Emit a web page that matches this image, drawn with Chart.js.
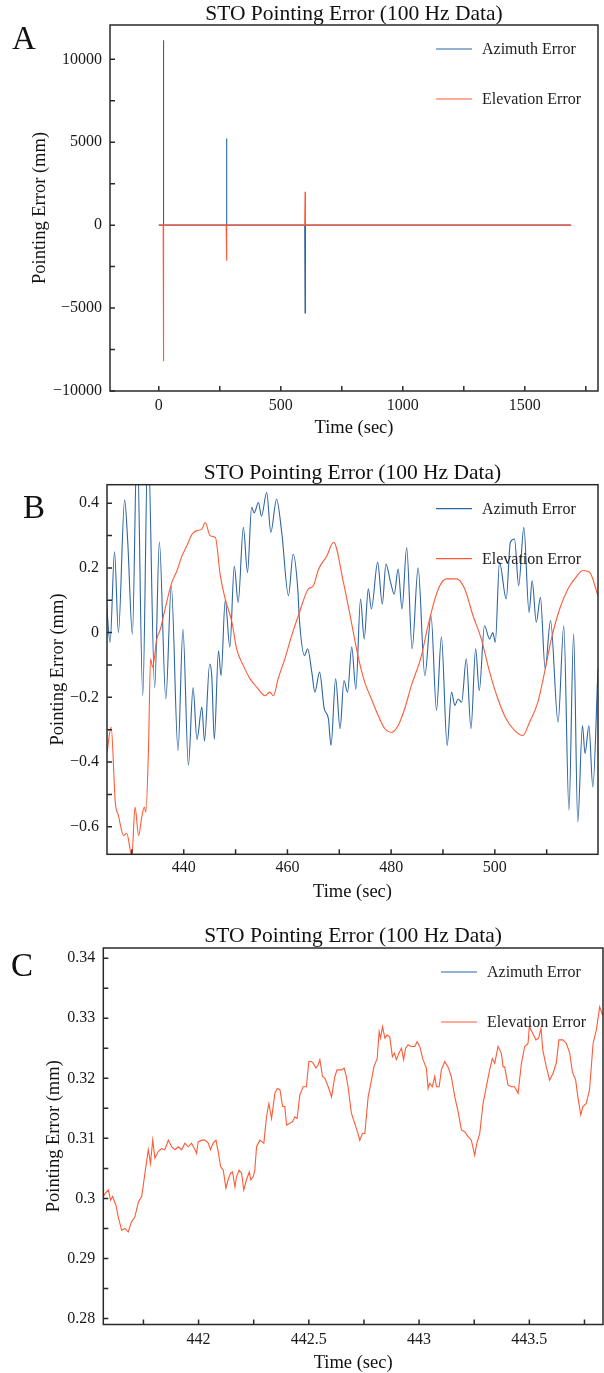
<!DOCTYPE html>
<html>
<head>
<meta charset="utf-8">
<script src="https://cdn.jsdelivr.net/npm/chart.js@4.4.1/dist/chart.umd.min.js"></script>
<style>
    html, body { margin: 0; padding: 0; background: #fff; }
    body { width: 604px; height: 1373px; position: relative; overflow: hidden; font-family: "Liberation Serif", serif; }
    canvas { position: absolute; left: 0; }
    .tag { position: absolute; font-size: 33px; line-height: 33px; color: #111; }
</style>
</head>
<body>
<canvas id="chartA" width="604" height="450" style="top:0"></canvas>
<canvas id="chartB" width="604" height="455" style="top:450px"></canvas>
<canvas id="chartC" width="604" height="468" style="top:905px"></canvas>
<div class="tag" style="left:12px;top:22px">A</div>
<div class="tag" style="left:23px;top:491px">B</div>
<div class="tag" style="left:11px;top:949px">C</div>
<script>
const titleText = "STO Pointing Error (100 Hz Data)";
const seriesNames = ["Azimuth Error", "Elevation Error"];
const xTitle = "Time (sec)";
const yTitle = "Pointing Error (mm)";

// A: whole run, three big spikes
const aTimeAz = [0, 18, 19, 20, 276, 277.5, 279, 598, 599.5, 601, 960, 1690];
const aAz = [0, 0, 11150, 0, 0, 5230, 0, 0, -5290, 0, 0, 0];
const aTimeEl = [0, 18, 19, 20, 276, 277.5, 279, 598, 599.5, 601, 1060, 1690];
const aEl = [0, 0, -8200, 0, 0, -2150, 0, 0, 2010, 0, 0, 0];
const aXTicks = [0, 500, 1000, 1500];
const aXMinor = [250, 750, 1250, 1750];
const aYTicks = [-10000, -5000, 0, 5000, 10000];
const aYMinor = [-7500, -2500, 2500, 7500];

// B: 425 - 520 sec
const bTimeAz = [425.0, 425.8, 426.65, 427.4, 428.6, 429.2, 430.1, 431.0, 432.1, 433.1, 434.4, 435.3, 436.55, 437.6, 438.9, 439.85, 440.9, 441.8, 442.55, 443.5, 444.0, 445.0, 445.4, 445.9, 446.7, 447.2, 448.0, 448.9, 449.75, 450.5, 451.5, 452.3, 453.1, 453.6, 454.4, 455.0, 456.0, 456.8, 457.9, 458.9, 460.2, 461.1, 462.0, 462.3, 463.3, 463.9, 464.7, 465.3, 466.2, 467.1, 467.9, 468.4, 469.3, 470.15, 470.9, 471.6, 472.4, 473.2, 474.1, 474.8, 475.6, 476.2, 477.4, 478.3, 479.0, 479.9, 480.6, 481.35, 482.1, 483.0, 484.05, 485.2, 486.5, 487.7, 488.75, 489.7, 490.8, 491.65, 492.3, 492.9, 493.6, 494.5, 495.4, 496.3, 497.0, 498.0, 499.0, 499.6, 500.1, 500.9, 502.2, 503.0, 503.8, 504.6, 505.6, 506.6, 507.2, 508.0, 508.8, 509.7, 510.75, 512.2, 513.3, 514.3, 515.2, 516.0, 516.9, 517.4, 518.15, 518.9, 519.9];
const bAz = [0.12, -0.03, 0.25, 0.0, 0.41, 0.28, -0.005, 0.6, -0.195, 0.6, -0.17, 0.28, -0.205, 0.145, -0.365, 0.01, -0.41, -0.17, -0.33, -0.23, -0.335, -0.097, -0.133, -0.33, -0.056, -0.133, 0.1, -0.045, 0.206, 0.093, 0.325, 0.186, 0.387, 0.37, 0.402, 0.36, 0.433, 0.31, 0.412, 0.31, 0.114, 0.242, 0.134, 0.042, -0.071, -0.05, -0.122, -0.184, -0.122, -0.235, -0.266, -0.349, -0.143, -0.297, -0.148, -0.184, -0.045, -0.175, 0.104, -0.02, 0.135, 0.073, 0.217, 0.088, 0.212, 0.155, 0.119, 0.196, 0.073, 0.263, -0.05, 0.2, -0.133, 0.052, -0.24, -0.014, -0.349, -0.184, -0.225, -0.205, -0.215, -0.081, -0.297, -0.05, -0.179, 0.021, -0.02, 0.0, -0.03, 0.217, 0.104, 0.279, 0.289, 0.145, 0.325, 0.062, 0.16, 0.032, 0.109, -0.112, 0.037, -0.277, 0.021, -0.549, -0.004, -0.585, -0.287, -0.374, -0.287, -0.477, -0.112];
const bTimeEl = [425.2, 426.0, 426.8, 427.4, 428.4, 429.0, 430.0, 430.6, 431.3, 431.9, 432.4, 432.7, 433.2, 433.6, 434.0, 434.8, 435.5, 436.4, 437.7, 438.7, 439.65, 440.6, 441.6, 442.55, 443.5, 444.15, 445.1, 446.1, 447.05, 448.0, 449.3, 450.2, 451.5, 452.8, 454.1, 455.7, 456.6, 457.3, 458.2, 459.5, 460.8, 462.1, 464.0, 465.0, 466.0, 467.6, 468.9, 470.8, 472.1, 473.6, 474.9, 476.2, 477.5, 478.8, 480.1, 481.35, 482.6, 483.9, 485.85, 487.1, 489.1, 490.7, 492.6, 494.2, 495.8, 497.4, 499.0, 500.6, 502.2, 503.8, 505.4, 506.7, 508.3, 509.6, 510.9, 512.5, 514.1, 515.4, 517.0, 518.3, 519.9];
const bEl = [-0.37, -0.292, -0.524, -0.565, -0.627, -0.62, -0.69, -0.539, -0.627, -0.57, -0.539, -0.555, -0.359, -0.081, -0.107, -0.02, 0.011, 0.073, 0.155, 0.191, 0.237, 0.268, 0.304, 0.315, 0.32, 0.34, 0.299, 0.294, 0.176, 0.104, 0.032, -0.05, -0.102, -0.143, -0.169, -0.195, -0.184, -0.195, -0.143, -0.081, -0.01, 0.052, 0.134, 0.145, 0.196, 0.237, 0.279, 0.155, 0.052, -0.071, -0.153, -0.205, -0.256, -0.297, -0.308, -0.287, -0.236, -0.164, -0.071, 0.021, 0.135, 0.166, 0.166, 0.135, 0.052, -0.02, -0.122, -0.205, -0.267, -0.302, -0.318, -0.277, -0.215, -0.122, -0.02, 0.073, 0.135, 0.166, 0.192, 0.186, 0.114];
const bXTicks = [440, 460, 480, 500];
const bXMinor = [430, 450, 470, 490, 510];
const bYTicks = [-0.6, -0.4, -0.2, 0, 0.2, 0.4];
const bYMinor = [-0.5, -0.3, -0.1, 0.1, 0.3];

// C: zoom on 441.6 - 443.8 sec (azimuth is below the window)
const cTimeAz = [441.8, 442.55, 443.5, 444.0];
const cAz = [-0.17, -0.33, -0.23, -0.335];
const cTimeEl = [441.568, 441.576, 441.591, 441.601, 441.610, 441.625, 441.636, 441.651, 441.666, 441.681, 441.696, 441.711, 441.727, 441.742, 441.757, 441.772, 441.782, 441.792, 441.802, 441.817, 441.832, 441.847, 441.863, 441.878, 441.893, 441.908, 441.923, 441.938, 441.953, 441.968, 441.984, 441.991, 441.998, 442.014, 442.029, 442.044, 442.054, 442.066, 442.079, 442.089, 442.100, 442.112, 442.124, 442.134, 442.145, 442.154, 442.165, 442.172, 442.184, 442.195, 442.205, 442.217, 442.230, 442.237, 442.248, 442.255, 442.263, 442.278, 442.296, 442.308, 442.319, 442.331, 442.346, 442.357, 442.369, 442.381, 442.391, 442.399, 442.414, 442.426, 442.437, 442.447, 442.459, 442.474, 442.489, 442.500, 442.512, 442.520, 442.532, 442.542, 442.550, 442.562, 442.573, 442.588, 442.603, 442.618, 442.628, 442.648, 442.660, 442.668, 442.678, 442.693, 442.708, 442.723, 442.731, 442.743, 442.754, 442.769, 442.784, 442.795, 442.810, 442.819, 442.825, 442.834, 442.845, 442.855, 442.867, 442.879, 442.888, 442.897, 442.909, 442.920, 442.930, 442.939, 442.950, 442.965, 442.980, 442.991, 443.003, 443.018, 443.033, 443.041, 443.048, 443.060, 443.071, 443.079, 443.091, 443.101, 443.116, 443.131, 443.146, 443.162, 443.177, 443.192, 443.207, 443.222, 443.237, 443.252, 443.262, 443.275, 443.290, 443.305, 443.320, 443.332, 443.343, 443.358, 443.373, 443.381, 443.388, 443.403, 443.418, 443.433, 443.449, 443.464, 443.479, 443.494, 443.500, 443.515, 443.530, 443.542, 443.553, 443.561, 443.577, 443.592, 443.607, 443.622, 443.634, 443.652, 443.668, 443.683, 443.695, 443.710, 443.720, 443.733, 443.743, 443.758, 443.773, 443.789, 443.804, 443.819, 443.834];
const cEl = [0.3003, 0.3008, 0.3014, 0.2997, 0.3003, 0.2989, 0.2969, 0.2947, 0.2950, 0.2944, 0.2961, 0.2969, 0.2994, 0.3003, 0.3042, 0.3081, 0.3058, 0.3097, 0.3067, 0.3078, 0.3083, 0.3081, 0.3097, 0.3086, 0.3081, 0.3086, 0.3081, 0.3092, 0.3086, 0.3092, 0.3081, 0.3075, 0.3094, 0.3097, 0.3097, 0.3092, 0.3081, 0.3092, 0.3097, 0.3078, 0.3053, 0.3047, 0.3017, 0.3031, 0.3042, 0.3044, 0.3019, 0.3036, 0.3047, 0.3042, 0.3014, 0.3031, 0.3044, 0.3031, 0.3036, 0.3047, 0.3086, 0.3097, 0.3092, 0.3136, 0.3158, 0.3133, 0.3175, 0.3183, 0.3181, 0.3153, 0.3153, 0.3122, 0.3125, 0.3128, 0.3136, 0.3133, 0.3172, 0.3186, 0.3186, 0.3228, 0.3228, 0.3225, 0.3217, 0.3222, 0.3231, 0.3203, 0.3200, 0.3186, 0.3169, 0.3203, 0.3214, 0.3214, 0.3217, 0.3206, 0.3186, 0.3142, 0.3125, 0.3108, 0.3097, 0.3108, 0.3108, 0.3169, 0.3197, 0.3219, 0.3233, 0.3278, 0.3267, 0.3286, 0.3267, 0.3272, 0.3269, 0.3236, 0.3242, 0.3231, 0.3242, 0.3250, 0.3231, 0.3250, 0.3256, 0.3253, 0.3253, 0.3261, 0.3253, 0.3231, 0.3217, 0.3183, 0.3192, 0.3186, 0.3203, 0.3186, 0.3186, 0.3214, 0.3228, 0.3219, 0.3203, 0.3169, 0.3144, 0.3114, 0.3111, 0.3103, 0.3097, 0.3072, 0.3092, 0.3108, 0.3158, 0.3186, 0.3214, 0.3233, 0.3225, 0.3253, 0.3242, 0.3219, 0.3219, 0.3189, 0.3186, 0.3186, 0.3175, 0.3225, 0.3253, 0.3258, 0.3286, 0.3275, 0.3264, 0.3267, 0.3283, 0.3247, 0.3219, 0.3197, 0.3208, 0.3225, 0.3264, 0.3264, 0.3258, 0.3242, 0.3211, 0.3197, 0.3169, 0.3139, 0.3153, 0.3158, 0.3181, 0.3258, 0.3281, 0.3319, 0.3303];
const cXTicks = [442, 442.5, 443, 443.5];
const cXMinor = [441.75, 442.25, 442.75, 443.25, 443.75];
const cYTicks = [0.28, 0.29, 0.3, 0.31, 0.32, 0.33, 0.34];
const cYMinor = [0.285, 0.295, 0.305, 0.315, 0.325, 0.335];

const azColor = "#2d65a5";
const elColor = "#ff5a36";

Chart.defaults.font.family = "'Liberation Serif', 'DejaVu Serif', serif";
Chart.defaults.color = "#1a1a1a";

function fmt(v) {
    const s = String(Math.abs(v));
    return v < 0 ? "\u2212" + s : s;
}

// box around the plot + inward ticks on the left and bottom
const frame = {
    id: "frame",
    afterDatasetsDraw(chart, args, opts) {
        const { ctx, chartArea: a, scales } = chart;
        ctx.save();
        ctx.strokeStyle = "#2a2a2a";
        ctx.lineWidth = 1.5;
        ctx.beginPath();
        opts.xTicks.concat(opts.xMinor).forEach((v) => {
            const px = scales.x.getPixelForValue(v);
            ctx.moveTo(px, a.bottom);
            ctx.lineTo(px, a.bottom - 5);
        });
        opts.yTicks.concat(opts.yMinor).forEach((v) => {
            const py = scales.y.getPixelForValue(v);
            ctx.moveTo(a.left, py);
            ctx.lineTo(a.left + 5, py);
        });
        ctx.stroke();
        ctx.strokeRect(a.left, a.top, a.right - a.left, a.bottom - a.top);
        ctx.restore();
    },
};

// legend drawn inside the plot, upper right, matplotlib style
const insideLegend = {
    id: "insideLegend",
    afterDraw(chart) {
        const { ctx, chartArea: a } = chart;
        const x0 = a.right - 162;
        ctx.save();
        ctx.font = "16px 'Liberation Serif', serif";
        ctx.textBaseline = "middle";
        ctx.textAlign = "left";
        chart.data.datasets.forEach((ds, i) => {
            const y = a.top + 24 + i * 50;
            ctx.strokeStyle = ds.borderColor;
            ctx.lineWidth = 1.2;
            ctx.beginPath();
            ctx.moveTo(x0, y);
            ctx.lineTo(x0 + 36, y);
            ctx.stroke();
            ctx.fillStyle = "#222";
            ctx.fillText(ds.label, x0 + 46, y + 1);
        });
        ctx.restore();
    },
};

function pairs(xs, ys) {
    return xs.map((x, i) => ({ x: x, y: ys[i] }));
}

function makeChart(id, p) {
    const ctx = document.getElementById(id).getContext("2d");
    const curve = p.smooth ? "monotone" : "default";
    return new Chart(ctx, {
        type: "line",
        data: {
            datasets: [
                {
                    label: seriesNames[0],
                    data: pairs(p.timeAz, p.az),
                    borderColor: azColor,
                    borderWidth: 1.1,
                    pointRadius: 0,
                    tension: 0,
                    cubicInterpolationMode: curve,
                    order: 1,
                },
                {
                    label: seriesNames[1],
                    data: pairs(p.timeEl, p.el),
                    borderColor: elColor,
                    borderWidth: 1.1,
                    pointRadius: 0,
                    tension: 0,
                    cubicInterpolationMode: curve,
                    order: 0,
                },
            ],
        },
        options: {
            responsive: false,
            animation: false,
            events: [],
            layout: { padding: { left: 0, right: p.padRight, top: 0, bottom: 0 } },
            plugins: {
                legend: { display: false },
                tooltip: { enabled: false },
                title: {
                    display: true,
                    text: titleText,
                    fullSize: false,
                    color: "#111",
                    font: { size: 21.5, weight: "normal", lineHeight: 1 },
                    padding: { top: p.titleTop, bottom: p.titleBottom },
                },
                frame: {
                    xTicks: p.xTicks,
                    xMinor: p.xMinor,
                    yTicks: p.yTicks,
                    yMinor: p.yMinor,
                },
            },
            scales: {
                x: {
                    type: "linear",
                    min: p.xMin,
                    max: p.xMax,
                    grid: { display: false, drawTicks: false },
                    border: { display: false },
                    afterBuildTicks: (scale) => {
                        scale.ticks = p.xTicks.map((v) => ({ value: v }));
                    },
                    afterFit: (scale) => {
                        scale.height = p.xAxisHeight;
                    },
                    ticks: {
                        autoSkip: false,
                        maxRotation: 0,
                        padding: p.xTickPad,
                        font: { size: 16 },
                        color: "#1a1a1a",
                        callback: (v) => fmt(v),
                    },
                    title: {
                        display: true,
                        text: xTitle,
                        color: "#111",
                        font: { size: 18.5, lineHeight: 1.1 },
                        padding: { top: 0, bottom: p.xTitlePad },
                    },
                },
                y: {
                    type: "linear",
                    min: p.yMin,
                    max: p.yMax,
                    grid: { display: false, drawTicks: false },
                    border: { display: false },
                    afterBuildTicks: (scale) => {
                        scale.ticks = p.yTicks.map((v) => ({ value: v }));
                    },
                    afterFit: (scale) => {
                        scale.width = p.yAxisWidth;
                    },
                    ticks: {
                        padding: 8,
                        font: { size: 16 },
                        color: "#1a1a1a",
                        callback: (v) => fmt(v),
                    },
                    title: {
                        display: true,
                        text: yTitle,
                        color: "#111",
                        font: { size: 18.5, lineHeight: 1.1 },
                        padding: { top: p.yTitlePad, bottom: 0 },
                    },
                },
            },
        },
        plugins: [frame, insideLegend],
    });
}

makeChart("chartA", {
    timeAz: aTimeAz, az: aAz, timeEl: aTimeEl, el: aEl,
    xMin: -200, xMax: 1800, yMin: -10000, yMax: 12070,
    xTicks: aXTicks, xMinor: aXMinor, yTicks: aYTicks, yMinor: aYMinor,
    yAxisWidth: 110, xAxisHeight: 59, padRight: 6,
    titleTop: 3.25, titleBottom: 0.25,
    xTickPad: 4.7, xTitlePad: 11.8, yTitlePad: 30.3,
    smooth: false,
});

makeChart("chartB", {
    timeAz: bTimeAz, az: bAz, timeEl: bTimeEl, el: bEl,
    xMin: 425.2, xMax: 519.9, yMin: -0.685, yMax: 0.457,
    xTicks: bXTicks, xMinor: bXMinor, yTicks: bYTicks, yMinor: bYMinor,
    yAxisWidth: 107, xAxisHeight: 50.7, padRight: 6,
    titleTop: 12.55, titleBottom: 0.65,
    xTickPad: 4.1, xTitlePad: 3.1, yTitlePad: 47.8,
    smooth: true,
});

makeChart("chartC", {
    timeAz: cTimeAz, az: cAz, timeEl: cTimeEl, el: cEl,
    xMin: 441.568, xMax: 443.834, yMin: 0.279, yMax: 0.3417,
    xTicks: cXTicks, xMinor: cXMinor, yTicks: cYTicks, yMinor: cYMinor,
    yAxisWidth: 103.3, xAxisHeight: 48.5, padRight: 1,
    titleTop: 20.95, titleBottom: 0.55,
    xTickPad: 5.9, xTitlePad: 0, yTitlePad: 43.8,
    smooth: false,
});
</script>
</body>
</html>
